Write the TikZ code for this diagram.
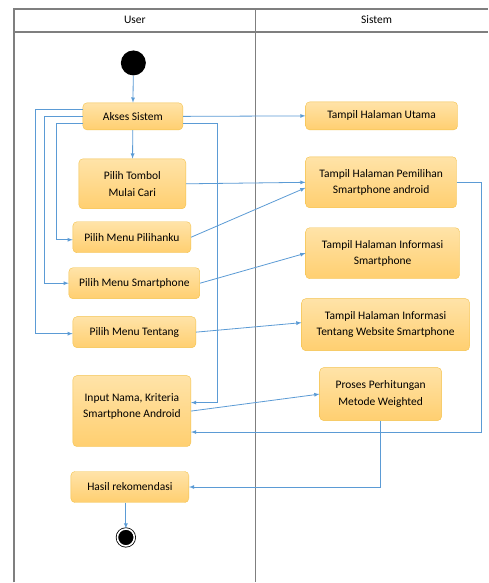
\documentclass[tikz,border=0pt]{standalone}
\usepackage{fontspec}
\setmainfont{Carlito}
\usepackage{tikz}
\usetikzlibrary{arrows}
\definecolor{boxtop}{HTML}{FFE3A8}
\definecolor{boxbot}{HTML}{FFCF70}
\definecolor{boxline}{HTML}{F3C24B}
\definecolor{flow}{HTML}{5B9BD5}
\definecolor{lane}{HTML}{7F7F7F}
\tikzset{
  act/.style={draw=boxline, top color=boxtop, bottom color=boxbot, rounded corners=4pt,
    align=center, inner sep=0pt, font=\fontsize{11.5}{16.5}\selectfont},
  flow/.style={draw=flow, line width=0.8pt, ->},
}
\begin{document}
\begin{tikzpicture}[x=1pt, y=-1pt, >=latex]
      \fill[white] (0, 0) rectangle (488, 583);
      \draw[lane, line width=1.2pt] (14, 583) |- (488, 9);
      \draw[lane, line width=1.2pt] (14, 32) -- (488, 32);
      \draw[lane, line width=1.2pt] (256, 9) -- (256, 583);
      \node[font=\fontsize{11.5}{13}\selectfont] (user) at (135, 20) {User};
      \node[font=\fontsize{11.5}{13}\selectfont] (sistem) at (377, 20) {Sistem};
      \node[circle, fill=black, inner sep=0pt, minimum size=25pt] (start) at (133.5, 63) {};
      \node[act, minimum width=100pt, minimum height=27pt] (akses) at (133, 116.5) {Akses Sistem};
      \node[act, minimum width=107pt, minimum height=50pt] (tombol) at (132.5, 184) {Pilih Tombol\\Mulai Cari};
      \node[act, minimum width=118pt, minimum height=31pt] (pilihanku) at (132, 237.5) {Pilih Menu Pilihanku};
      \node[act, minimum width=131pt, minimum height=31pt] (menusmart) at (134.5, 283.5) {Pilih Menu Smartphone};
      \node[act, minimum width=123pt, minimum height=31pt] (tentang) at (134.5, 332.5) {Pilih Menu Tentang};
      \node[act, minimum width=118pt, minimum height=71pt] (input) at (132, 411.5) {Input Nama, Kriteria\\Smartphone Android\\[-5pt]~};
      \node[act, minimum width=118pt, minimum height=31pt] (hasil) at (130, 487.5) {Hasil rekomendasi};
      \node[circle, fill=black, draw=black, line width=0.8pt, double=white, double distance=1.6pt,
        inner sep=0pt, minimum size=17pt] (end) at (126, 538) {};
      \node[act, minimum width=152pt, minimum height=28pt] (utama) at (382, 116) {Tampil Halaman Utama};
      \node[act, minimum width=151pt, minimum height=51pt] (pemilihan) at (381.5, 182.5) {Tampil Halaman Pemilihan\\Smartphone android};
      \node[act, minimum width=154pt, minimum height=51pt] (infosmart) at (383, 253.5) {Tampil Halaman Informasi\\Smartphone};
      \node[act, minimum width=168pt, minimum height=52pt] (infotentang) at (386, 325) {Tampil Halaman Informasi\\Tentang Website Smartphone};
      \node[act, minimum width=122pt, minimum height=53pt] (proses) at (381, 394.5) {Proses Perhitungan\\Metode Weighted};
      \draw[flow] (start) -- (akses);
      \draw[flow] (akses.east) -- (utama.west);
      \draw[flow] (akses) -- (tombol);
      \draw[flow] ([yshift=7pt]akses.west) -- ++(-47, 0) |- ([yshift=-1.5pt]tentang.west);
      \draw[flow] (akses.west) -- ++(-38, 0) |- (menusmart.west);
      \draw[flow] ([yshift=-7.5pt]akses.west) -- ++(-26, 0) |- ([yshift=-2.5pt]pilihanku.west);
      \draw[flow] ([yshift=-7.5pt]akses.east) -- ++(34, 0) |- ([yshift=8.5pt]input.east);
      \draw[flow] (tombol.east) -- (pemilihan.west);
      \draw[flow] (pilihanku.east) -- ([yshift=-5.5pt]pemilihan.west);
      \draw[flow] (menusmart.east) -- (infosmart.west);
      \draw[flow] (tentang.east) -- ([yshift=2pt]infotentang.west);
      \draw[flow] (pemilihan.east) -- ++(25, 0) |- ([yshift=-21pt]input.east);
      \draw[flow] (input.east) -- (proses.west);
      \draw[flow] (proses.south) |- (hasil.east);
      \draw[flow] (hasil.south -| end) -- (end);
    \end{tikzpicture}
\end{document}
